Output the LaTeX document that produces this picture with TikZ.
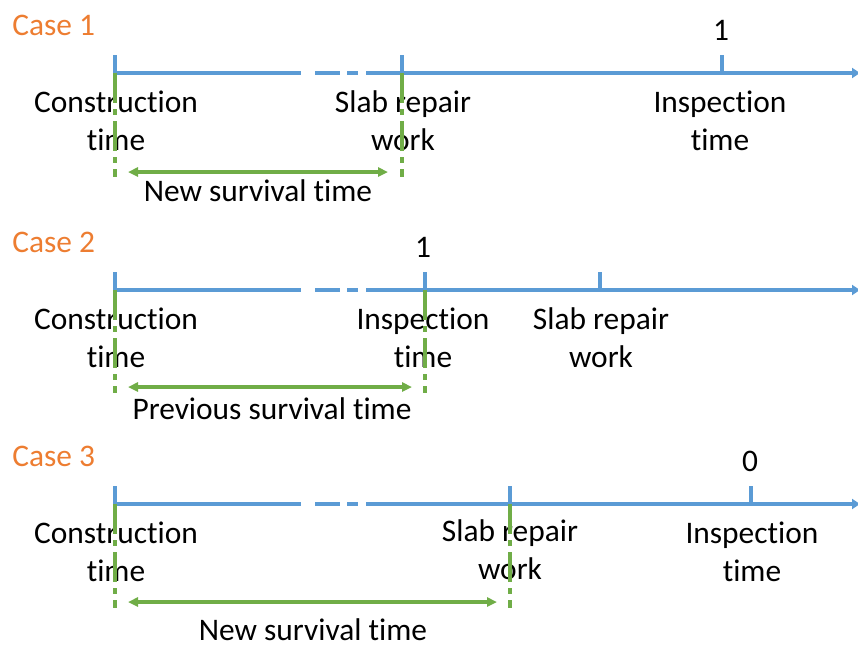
\documentclass[tikz,border=0pt]{standalone}
\usepackage{fontspec}
\setmainfont{Carlito}[Ligatures=NoCommon]
\usetikzlibrary{arrows.meta,positioning}
\definecolor{axisblue}{HTML}{5B9BD5}
\definecolor{spangreen}{HTML}{70AD47}
\definecolor{caseorange}{HTML}{ED7D31}
\tikzset{
  axis/.style={draw=axisblue, line width=2pt},
  axisarrow/.style={axis, -{Triangle[length=4pt,width=5pt]}},
  gapdash/.style={axis, dash pattern=on 0pt off 7pt on 12.5pt off 3.5pt on 5.5pt off 4pt},
  guide/.style={draw=spangreen, line width=1.75pt, dash pattern=on 15pt off 3pt on 3pt off 3pt},
  span/.style={draw=spangreen, line width=1.6pt, {Triangle[length=5pt,width=4.5pt]}-{Triangle[length=5pt,width=4.5pt]}},
  lbl/.style={font=\fontsize{15.7}{19}\selectfont, align=center, inner sep=0pt, anchor=base},
  casename/.style={font=\fontsize{15.7}{19}\selectfont, text=caseorange, inner sep=0pt, anchor=base west}
}
\begin{document}
\begin{tikzpicture}[x=0.5pt,y=-0.5pt]
\useasboundingbox (0,0) rectangle (858,645);
% case 1
\node[casename] (case1) at (12,35) {Case 1};
\coordinate (s1) at (115,73);
\coordinate (g1a) at (301,73);
\coordinate (g1b) at (366,73);
\coordinate (e1) at (860,73);
\coordinate (r1) at (402,73);
\coordinate (i1) at (722,73);
\draw[axis] (115,55) -- (s1) -- (g1a);
\draw[gapdash] (g1a) -- (g1b);
\draw[axisarrow] (g1b) -- (e1);
\draw[axis] (r1) -- ++(0,-18);
\draw[axis] (i1) -- ++(0,-18);
\node[lbl] (one1) at (721,40) {1};
\node[lbl] (con1) at (116,150) {Construction\\time};
\node[lbl] (rep1) at (403,150) {Slab repair\\work};
\node[lbl] (ins1) at (720,150) {Inspection\\time};
\coordinate (gs1) at (115,177);
\coordinate (gr1) at (402,177);
\coordinate (al1) at (128,172);
\coordinate (ar1) at (388,172);
\draw[guide] (s1) -- (gs1);
\draw[guide] (r1) -- (gr1);
\draw[span] (al1) -- (ar1);
\node[lbl] (new1) at (258,201) {New survival time};
% case 2
\node[casename] (case2) at (12,252) {Case 2};
\coordinate (s2) at (115,290);
\coordinate (g2a) at (301,290);
\coordinate (g2b) at (366,290);
\coordinate (e2) at (860,290);
\coordinate (i2) at (425,290);
\coordinate (r2) at (600,290);
\draw[axis] (115,272) -- (s2) -- (g2a);
\draw[gapdash] (g2a) -- (g2b);
\draw[axisarrow] (g2b) -- (e2);
\draw[axis] (i2) -- ++(0,-18);
\draw[axis] (r2) -- ++(0,-18);
\node[lbl] (one2) at (423,257) {1};
\node[lbl] (con2) at (116,367) {Construction\\time};
\node[lbl] (ins2) at (423,367) {Inspection\\time};
\node[lbl] (rep2) at (601,367) {Slab repair\\work};
\coordinate (gs2) at (115,393);
\coordinate (gi2) at (425,393);
\coordinate (al2) at (128,387);
\coordinate (ar2) at (412,387);
\draw[guide] (s2) -- (gs2);
\draw[guide] (i2) -- (gi2);
\draw[span] (al2) -- (ar2);
\node[lbl] (prev2) at (272,419) {Previous survival time};
% case 3
\node[casename] (case3) at (12,466) {Case 3};
\coordinate (s3) at (115,504);
\coordinate (g3a) at (301,504);
\coordinate (g3b) at (366,504);
\coordinate (e3) at (860,504);
\coordinate (r3) at (510,504);
\coordinate (i3) at (751,504);
\draw[axis] (115,486) -- (s3) -- (g3a);
\draw[gapdash] (g3a) -- (g3b);
\draw[axisarrow] (g3b) -- (e3);
\draw[axis] (r3) -- ++(0,-18);
\draw[axis] (i3) -- ++(0,-18);
\node[lbl] (zero3) at (750,471) {0};
\node[lbl] (con3) at (116,581) {Construction\\time};
\node[lbl] (rep3) at (510,579) {Slab repair\\work};
\node[lbl] (ins3) at (752,581) {Inspection\\time};
\coordinate (gs3) at (115,608);
\coordinate (gr3) at (510,608);
\coordinate (al3) at (128,602);
\coordinate (ar3) at (497,602);
\draw[guide] (s3) -- (gs3);
\draw[guide] (r3) -- (gr3);
\draw[span] (al3) -- (ar3);
\node[lbl] (new3) at (313,640) {New survival time};
\end{tikzpicture}
\end{document}
